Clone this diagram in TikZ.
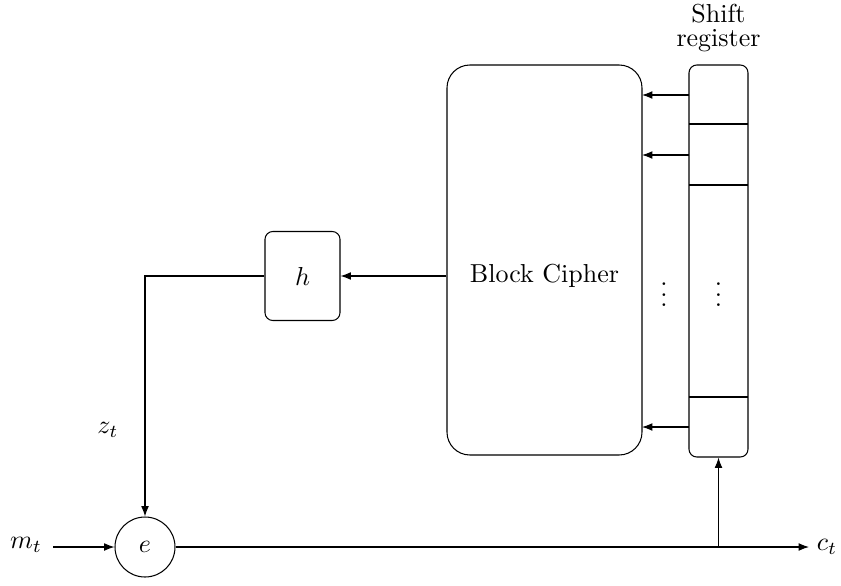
\documentclass[tikz,border=0pt]{standalone}
\usetikzlibrary{arrows.meta}
\begin{document}
\begin{tikzpicture}[x=0.385pt,y=-0.385pt,
  arr/.style={-{Latex[length=4pt,width=3pt]}},
  blk/.style={draw,rounded corners=8.8pt,inner sep=0pt}]
\useasboundingbox (0,0) rectangle (841,585);
% block cipher
\node[blk,minimum width=195*0.385pt,minimum height=390*0.385pt] (bc) at (544.5,260) {};
\node (bcl) at (544.5,276) {Block Cipher};
% shift register
\node[draw,rounded corners=3pt,minimum width=59*0.385pt,minimum height=392*0.385pt,inner sep=0pt] (sr) at (718.5,261) {};
\node[align=center,inner sep=0pt] (srl) at (718.5,28) {Shift\\[-2.5pt]register};
\coordinate (d1a) at (689,124); \coordinate (d1b) at (748,124);
\coordinate (d2a) at (689,185); \coordinate (d2b) at (748,185);
\coordinate (d3a) at (689,397); \coordinate (d3b) at (748,397);
\draw (d1a) -- (d1b) (d2a) -- (d2b) (d3a) -- (d3b);
\coordinate (s1) at (689,95); \coordinate (t1) at (642,95);
\coordinate (s2) at (689,155); \coordinate (t2) at (642,155);
\coordinate (s3) at (689,427); \coordinate (t3) at (642,427);
\draw[arr] (s1) -- (t1);
\draw[arr] (s2) -- (t2);
\draw[arr] (s3) -- (t3);
\node[inner sep=0pt] (dots1) at (664,287) {$\vdots$};
\node[inner sep=0pt] (dots2) at (718.5,287) {$\vdots$};
% h
\node[draw,rounded corners=3pt,minimum width=75*0.385pt,minimum height=89*0.385pt,inner sep=0pt] (h) at (302.5,276) {$h$};
\draw[arr] (bc.west |- h.east) -- (h.east);
% e
\node[draw,circle,minimum size=60*0.385pt,inner sep=0pt] (e) at (145,547) {$e$};
\draw[arr] (h.west) -| (e.north);
\node (zt) at (108,430) {$z_t$};
\node (mt) at (26,545) {$m_t$};
\coordinate (min) at (53,547);
\draw[arr] (min) -- (e.west);
\coordinate (cend) at (809,547);
\node (ct) at (827,547) {$c_t$};
\draw[arr] (e.east) -- (cend);
\coordinate (br) at (718.5,547);
\draw[arr] (br) -- (sr.south);
\end{tikzpicture}
\end{document}
